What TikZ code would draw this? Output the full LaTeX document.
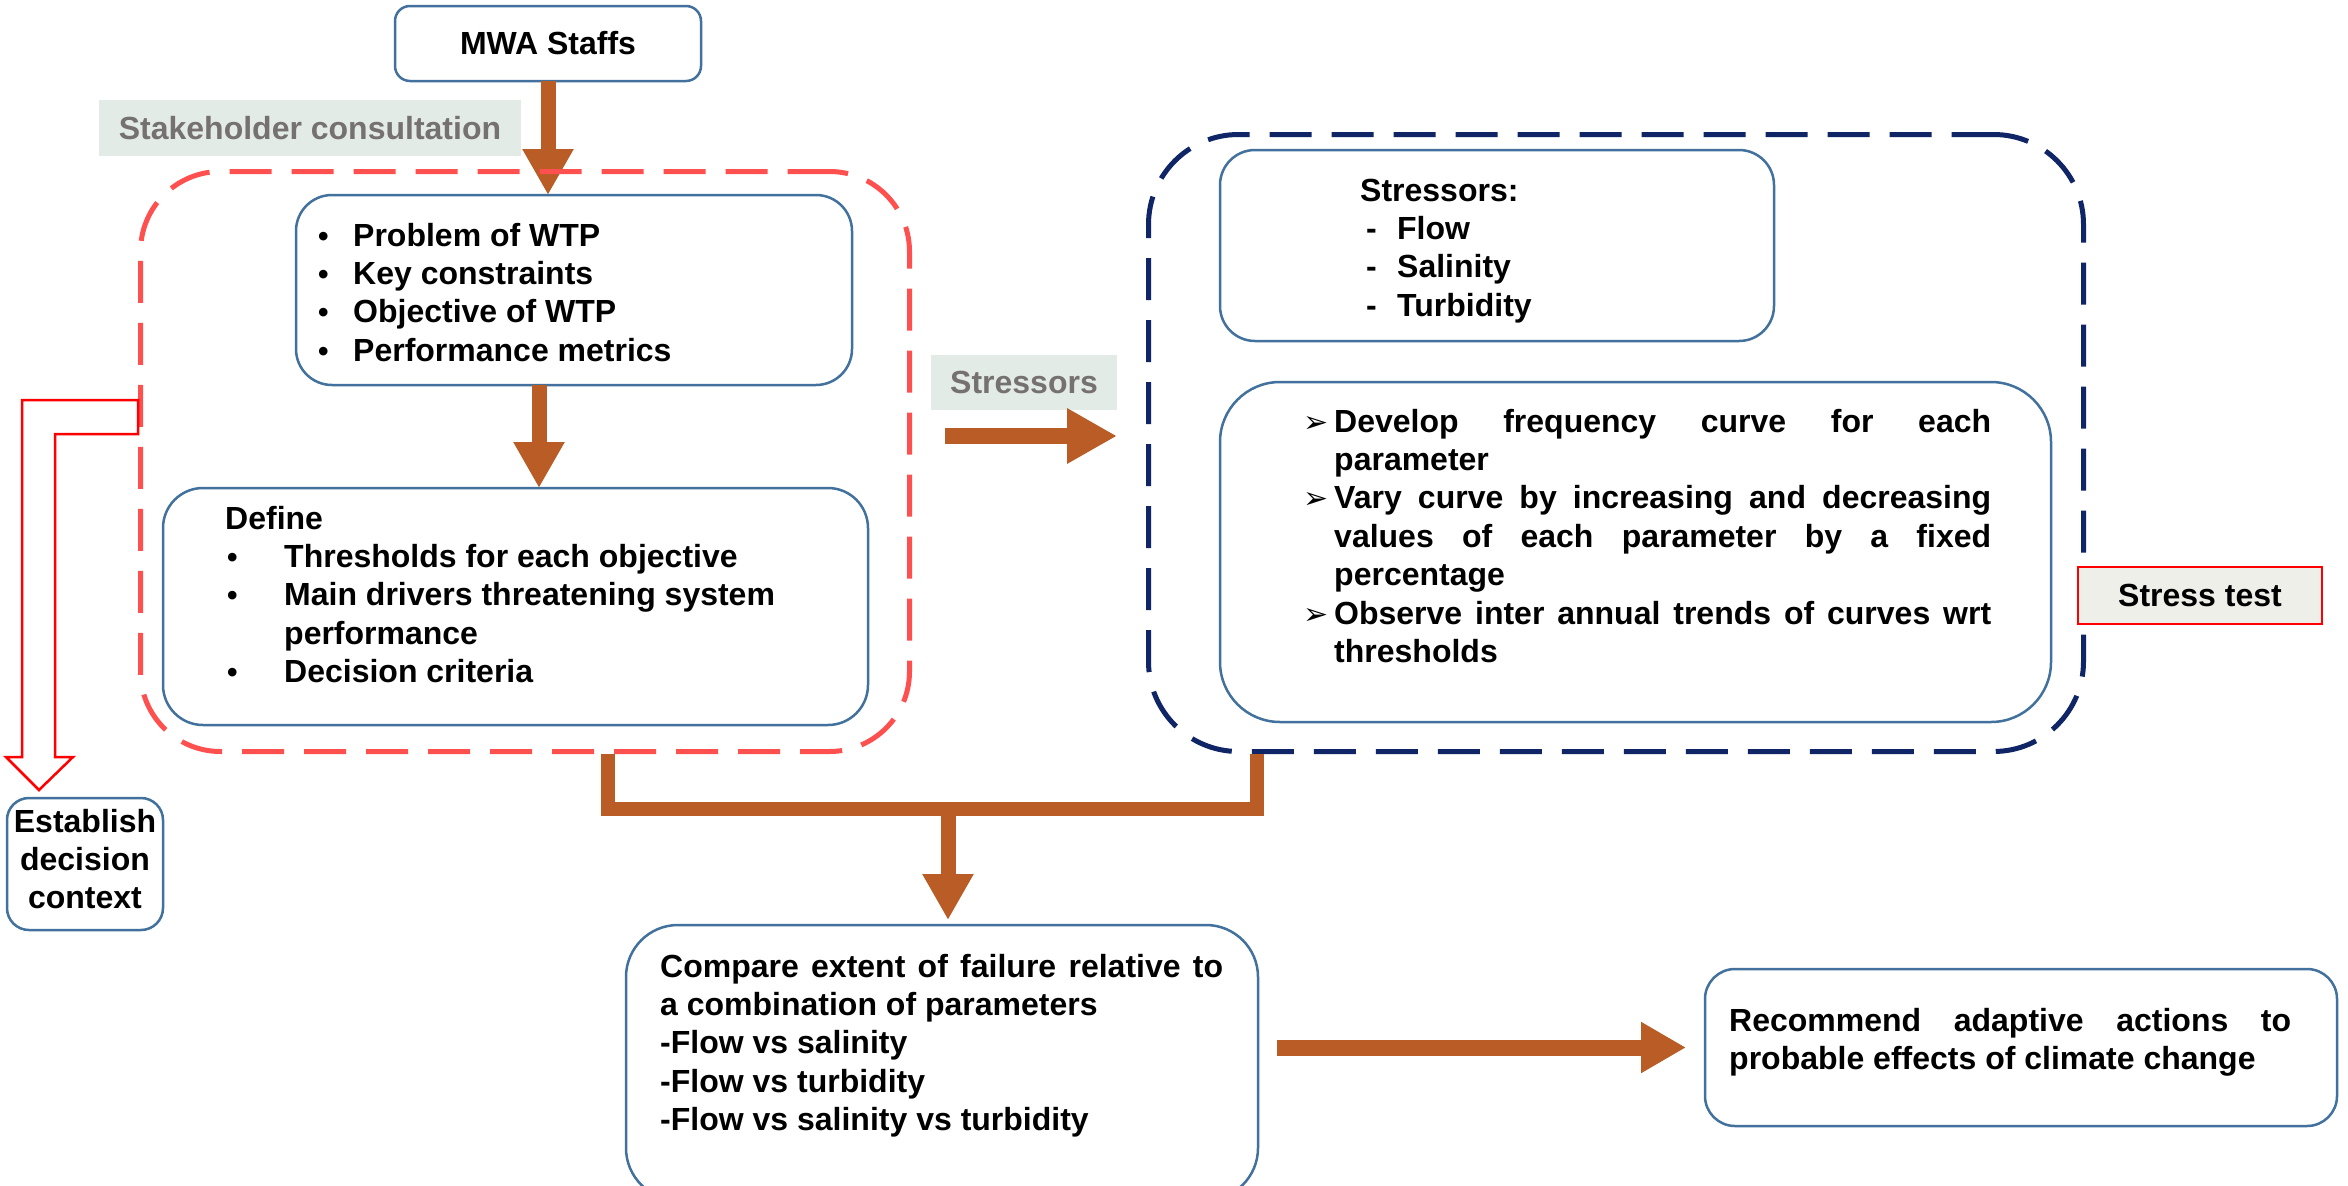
\documentclass[tikz,border=0pt]{standalone}
\usepackage{fontspec}
\setmainfont{Liberation Sans}
\newfontfamily\dejavu{DejaVu Sans}
\usetikzlibrary{arrows.meta}
\definecolor{brn}{HTML}{B95C25}
\definecolor{rdash}{HTML}{FF5050}
\definecolor{navyd}{HTML}{0F2566}
\definecolor{bblue}{HTML}{41719C}
\definecolor{lblfill}{HTML}{E3EBE7}
\definecolor{lbltext}{HTML}{767171}
\definecolor{stfill}{HTML}{EFEFEA}
\newcommand\txtf{\fontsize{32}{38.4}\selectfont\bfseries}
\newcommand\arr{\makebox[31pt][l]{\dejavu\fontsize{30}{30}\selectfont ➢}}
\newcommand\bul{\fontsize{30}{30}\selectfont •}
\tikzset{
  bbox/.style={draw=bblue, line width=2.5pt, fill=white, rounded corners=#1, inner sep=0pt, outer sep=0pt, anchor=north west},
  lbl/.style={fill=lblfill, text=lbltext, font=\txtf, inner sep=0pt},
  txt/.style={anchor=base west, inner sep=0pt, font=\txtf},
  bigarrow/.style={draw=brn, line width=15pt, -{Triangle[length=46pt,width=48pt]}},
  bar/.style={draw=brn, line width=14pt, line join=miter},
  reddash/.style={draw=rdash, line width=5pt, dash pattern=on 42pt off 20pt, rounded corners=80pt, inner sep=0pt, anchor=north west},
  navydash/.style={draw=navyd, line width=5pt, dash pattern=on 42pt off 20pt, rounded corners=90pt, inner sep=0pt, anchor=north west},
  hollow/.style={draw=red, line width=2.5pt, line join=miter}
}
\begin{document}
\begin{tikzpicture}[x=1pt,y=-1pt]
\useasboundingbox (0,0) rectangle (2348,1186);
\fill[white] (0,0) rectangle (2348,1186);

% top box and label
\node[bbox=15pt, anchor=center, minimum width=306pt, minimum height=75pt, font=\txtf] (mwa) at (548,43.5) {MWA Staffs};
\node[lbl, minimum width=422pt, minimum height=56pt] (stake) at (310,128) {Stakeholder consultation};

% problem box (drawn before container so dashes sit on arrow)
\node[bbox=36pt, minimum width=556pt, minimum height=190pt] (prob) at (296,195) {};
\draw[bigarrow] (mwa.south) -- (mwa.south |- prob.north);

% containers
\node[reddash, minimum width=769pt, minimum height=580pt] (ctx) at (138,169) {};
\node[navydash, minimum width=935pt, minimum height=617pt] (st) at (1146,132) {};

\node[txt] (probt) at (318,246) {\parbox[t]{500pt}{\txtf
\makebox[35pt][l]{\bul}Problem of WTP\\
\makebox[35pt][l]{\bul}Key constraints\\
\makebox[35pt][l]{\bul}Objective of WTP\\
\makebox[35pt][l]{\bul}Performance metrics}};

% define box
\node[bbox=40pt, minimum width=705pt, minimum height=237pt] (def) at (163,488) {};
\node[txt] (deft) at (225,529) {\parbox[t]{620pt}{\txtf
Define\\
\hspace*{2pt}\makebox[57pt][l]{\bul}Thresholds for each objective\\
\hspace*{2pt}\makebox[57pt][l]{\bul}Main drivers threatening system\\
\hspace*{59pt}performance\\
\hspace*{2pt}\makebox[57pt][l]{\bul}Decision criteria}};
\draw[bigarrow] ([xshift=-35pt]prob.south) -- ([xshift=-35pt]prob.south |- def.north);

% hollow red arrow to establish box
\draw[hollow] (138,400) -- (22,400) -- (22,757) -- (6,757) -- (39,790) -- (73,757) -- (55,757) -- (55,434) -- (138,434) -- cycle;
\node[bbox=22pt, minimum width=156pt, minimum height=132pt] (est) at (7,798) {};
\node[anchor=base, inner sep=0pt] (estt) at (85,832) {\parbox[t]{150pt}{\centering\txtf Establish\\decision\\context}};

% stressors label and arrow
\node[lbl, minimum width=186pt, minimum height=55pt] (strl) at (1024,382.5) {Stressors};
\coordinate (sa) at (945,436);
\coordinate (sb) at (1117,436);
\draw[draw=brn, line width=16pt, -{Triangle[length=50pt,width=52pt]}] (sa) -- (sb);

% stressors box
\node[bbox=35pt, minimum width=554pt, minimum height=191pt] (strb) at (1220,150) {};
\node[txt] (strt) at (1360,201) {\parbox[t]{400pt}{\txtf
Stressors:\\
\hspace*{6pt}\makebox[31pt][l]{-}Flow\\
\hspace*{6pt}\makebox[31pt][l]{-}Salinity\\
\hspace*{6pt}\makebox[31pt][l]{-}Turbidity}};

% develop box
\node[bbox=60pt, minimum width=831pt, minimum height=340pt] (dev) at (1220,382) {};
\node[txt] (devt) at (1303,432) {\parbox[t]{720pt}{\txtf
\arr\makebox[657pt][s]{Develop frequency curve for each}\\
\hspace*{31pt}parameter\\
\arr\makebox[657pt][s]{Vary curve by increasing and decreasing}\\
\hspace*{31pt}\makebox[657pt][s]{values of each parameter by a fixed}\\
\hspace*{31pt}percentage\\
\arr\makebox[657pt][s]{Observe inter annual trends of curves wrt}\\
\hspace*{31pt}thresholds}};

% stress test label
\node[fill=stfill, draw=red, line width=1.5pt, minimum width=244pt, minimum height=57pt, inner sep=0pt, font=\txtf] (stt) at (2200,595.5) {Stress test};

% bracket and arrow to compare box
\node[bbox=52pt, minimum width=632pt, minimum height=275pt] (cmp) at (626,925) {};
\coordinate (bl) at (608,809);
\coordinate (br) at (1257,809);
\coordinate (bm) at (948,809);
\draw[bar] (ctx.south -| bl) -- (bl) -- (br) -- (st.south -| br);
\draw[bigarrow, shorten >=5pt] (bm) -- (bm |- cmp.north);
\node[txt] (cmpt) at (660,977) {\parbox[t]{600pt}{\txtf
\makebox[563pt][s]{Compare extent of failure relative to}\\
a combination of parameters\\
-Flow vs salinity\\
-Flow vs turbidity\\
-Flow vs salinity vs turbidity}};

% recommend box
\node[bbox=30pt, minimum width=632pt, minimum height=157pt] (rec) at (1705,969) {};
\node[txt] (rect) at (1729,1031) {\parbox[t]{580pt}{\txtf
\makebox[562pt][s]{Recommend adaptive actions to}\\
probable effects of climate change}};
\draw[draw=brn, line width=16pt, -{Triangle[length=45pt,width=48pt]}] ([xshift=19pt]cmp.east |- rec.west) -- ([xshift=-19pt]rec.west);
\end{tikzpicture}
\end{document}
